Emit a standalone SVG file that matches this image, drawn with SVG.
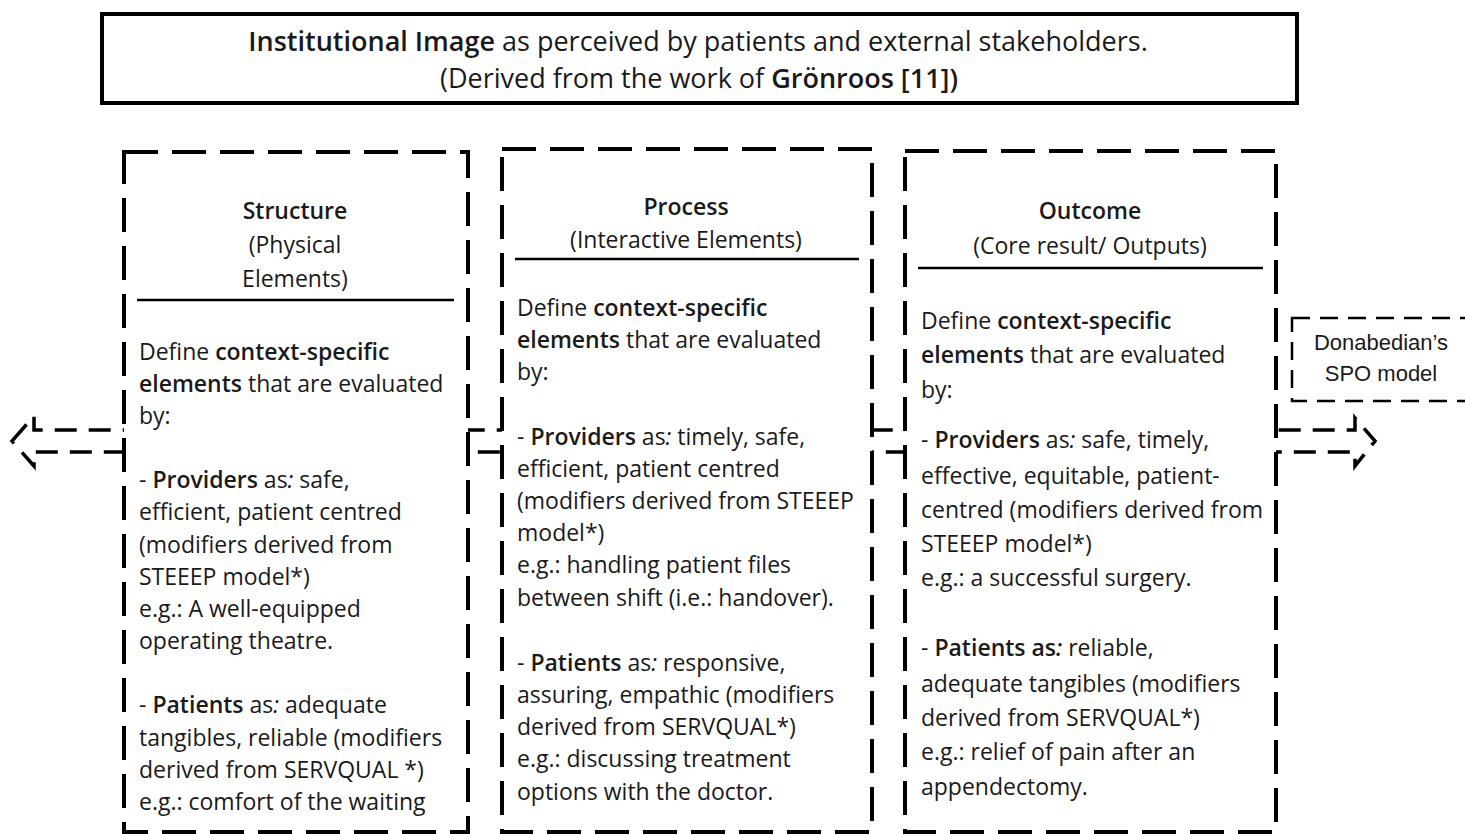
<svg xmlns="http://www.w3.org/2000/svg" width="1465" height="834" viewBox="0 0 1465 834">
<style>
text{font-family:"Open Sans","Liberation Sans",Arial,sans-serif;font-size:23px;fill:#1a1a1a}
.b{font-weight:600}
.i{font-style:italic}
.c{text-anchor:middle}
.t{font-size:27px}
.box{fill:#fff;stroke:#000;stroke-width:4;stroke-dasharray:34 14}
.rule{stroke:#000;stroke-width:2.5}
.small{font-family:"Liberation Sans",sans-serif;font-size:22px}
</style>
<rect width="1465" height="834" fill="#fff"/>
<g id="connectors">
<polygon points="12,441 34,416 34,430 1355,430 1355,418 1375,441 1355,466 1355,452 34,452 34,466" fill="none" stroke="#000" stroke-width="3.5" stroke-dasharray="22 12"/>
</g>
<g id="title">
<rect x="102" y="14" width="1195" height="89" fill="#fff" stroke="#000" stroke-width="4"/>
<text class="c t" x="698" y="51"><tspan class="b">Institutional Image</tspan> as perceived by patients and external stakeholders.</text>
<text class="c t" x="699" y="88">(Derived from the work of <tspan class="b">Grönroos [11])</tspan></text>
</g>
<g id="structure">
<rect class="box" x="124" y="152" width="344" height="680"/>
<text class="c b" x="295" y="219">Structure</text>
<text class="c" x="295" y="253">(Physical</text>
<text class="c" x="295" y="287">Elements)</text>
<line class="rule" x1="137" y1="300" x2="454" y2="300"/>
<text x="139" y="360">Define <tspan class="b">context-specific</tspan></text>
<text x="139" y="392"><tspan class="b">elements</tspan> that are evaluated</text>
<text x="139" y="424">by:</text>
<text x="139" y="488">- <tspan class="b">Providers</tspan> as<tspan class="i">:</tspan> safe,</text>
<text x="139" y="520">efficient, patient centred</text>
<text x="139" y="553">(modifiers derived from</text>
<text x="139" y="585">STEEEP model*)</text>
<text x="139" y="617">e.g.: A well-equipped</text>
<text x="139" y="649">operating theatre.</text>
<text x="139" y="713">- <tspan class="b">Patients</tspan> as<tspan class="i">:</tspan> adequate</text>
<text x="139" y="746">tangibles, reliable (modifiers</text>
<text x="139" y="778">derived from SERVQUAL *)</text>
<text x="139" y="810">e.g.: comfort of the waiting</text>
</g>
<g id="process">
<rect class="box" x="502" y="149" width="370" height="683"/>
<text class="c b" x="686" y="215">Process</text>
<text class="c" x="686" y="248">(Interactive Elements)</text>
<line class="rule" x1="515" y1="259" x2="859" y2="259"/>
<text x="517" y="316">Define <tspan class="b">context-specific</tspan></text>
<text x="517" y="348"><tspan class="b">elements</tspan> that are evaluated</text>
<text x="517" y="380">by:</text>
<text x="517" y="445">- <tspan class="b">Providers</tspan> as<tspan class="i">:</tspan> timely, safe,</text>
<text x="517" y="477">efficient, patient centred</text>
<text x="517" y="509">(modifiers derived from STEEEP</text>
<text x="517" y="541">model*)</text>
<text x="517" y="573">e.g.: handling patient files</text>
<text x="517" y="606">between shift (i.e.: handover).</text>
<text x="517" y="671">- <tspan class="b">Patients</tspan> as<tspan class="i">:</tspan> responsive,</text>
<text x="517" y="703">assuring, empathic (modifiers</text>
<text x="517" y="735">derived from SERVQUAL*)</text>
<text x="517" y="767">e.g.: discussing treatment</text>
<text x="517" y="800">options with the doctor.</text>
</g>
<g id="outcome">
<rect class="box" x="905" y="151" width="371" height="681"/>
<text class="c b" x="1090" y="219">Outcome</text>
<text class="c" x="1090" y="254">(Core result/ Outputs)</text>
<line class="rule" x1="918" y1="268" x2="1263" y2="268"/>
<text x="921" y="329">Define <tspan class="b">context-specific</tspan></text>
<text x="921" y="363"><tspan class="b">elements</tspan> that are evaluated</text>
<text x="921" y="398">by:</text>
<text x="921" y="448">- <tspan class="b">Providers</tspan> as<tspan class="i">:</tspan> safe, timely,</text>
<text x="921" y="484">effective, equitable, patient-</text>
<text x="921" y="518">centred (modifiers derived from</text>
<text x="921" y="552">STEEEP model*)</text>
<text x="921" y="586">e.g.: a successful surgery.</text>
<text x="921" y="656">- <tspan class="b">Patients as<tspan class="i">:</tspan></tspan> reliable,</text>
<text x="921" y="692">adequate tangibles (modifiers</text>
<text x="921" y="726">derived from SERVQUAL*)</text>
<text x="921" y="760">e.g.: relief of pain after an</text>
<text x="921" y="795">appendectomy.</text>
</g>
<g id="donabedian">
<rect x="1292" y="318" width="190" height="83" fill="#fff" stroke="#000" stroke-width="2.5" stroke-dasharray="18 10"/>
<text class="c small" x="1381" y="350">Donabedian’s</text>
<text class="c small" x="1381" y="381">SPO model</text>
</g>
</svg>
